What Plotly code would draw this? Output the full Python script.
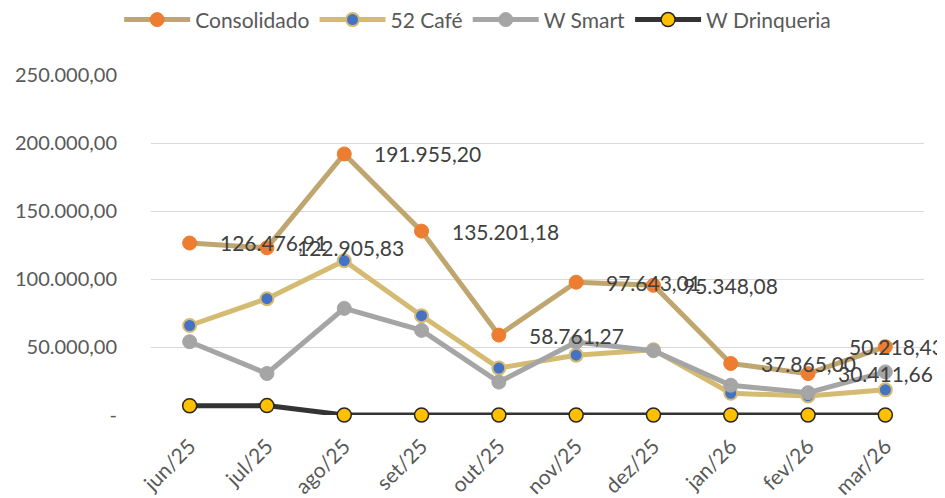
import plotly.graph_objects as go

months = ["jun/25", "jul/25", "ago/25", "set/25", "out/25", "nov/25", "dez/25", "jan/26", "fev/26", "mar/26"]
consolidado = [126476.91, 122905.83, 191955.20, 135201.18, 58761.27, 97643.01, 95348.08, 37865.00, 30411.66, 50218.43]
cafe52 = [65800, 85500, 113500, 73000, 34500, 44000, 48000, 16000, 14000, 18500]
wsmart = [53900, 30500, 78400, 62200, 24200, 53600, 47300, 21900, 16400, 31700]
wdrinq = [6800, 6900, 0, 0, 0, 0, 0, 0, 0, 0]
ytick_vals = [0, 50000, 100000, 150000, 200000, 250000]
ytick_text = ["-", "50.000,00", "100.000,00", "150.000,00", "200.000,00", "250.000,00"]
label_shift = [28, 28, 28, 28, 28, 28, 28, 28, 28, -38]

FONT = "Lato"

def br(v):
    s = f"{v:,.2f}"
    return s.replace(",", "X").replace(".", ",").replace("X", ".")

fig = go.Figure()
fig.add_trace(go.Scatter(x=months, y=consolidado, name="Consolidado", mode="lines+markers",
                         line=dict(color="#BFA56E", width=5),
                         marker=dict(color="#ED7D31", size=14, line=dict(color="#ED7D31", width=1)),
                         cliponaxis=False))
fig.add_trace(go.Scatter(x=months, y=cafe52, name="52 Café", mode="lines+markers",
                         line=dict(color="#D5BB72", width=5),
                         marker=dict(color="#4472C4", size=13, line=dict(color="#D5BB72", width=2)),
                         cliponaxis=False))
fig.add_trace(go.Scatter(x=months, y=wsmart, name="W Smart", mode="lines+markers",
                         line=dict(color="#A5A5A5", width=5),
                         marker=dict(color="#A5A5A5", size=14, line=dict(color="#A5A5A5", width=1)),
                         cliponaxis=False))
fig.add_trace(go.Scatter(x=months, y=wdrinq, name="W Drinqueria", mode="lines+markers",
                         line=dict(color="#333333", width=5),
                         marker=dict(color="#FFC000", size=14, line=dict(color="#262626", width=1.5)),
                         cliponaxis=False))

for m, v, s in zip(months, consolidado, label_shift):
    fig.add_annotation(x=m, y=v, text=br(v), showarrow=False, xanchor="left", yanchor="middle",
                       xshift=s, font=dict(family=FONT, size=21, color="#404040"))

fig.update_layout(
    width=945, height=498,
    margin=dict(l=143, r=29, t=67, b=91, autoexpand=False),
    plot_bgcolor="white", paper_bgcolor="white",
    font=dict(family=FONT, size=20, color="#595959"),
    legend=dict(orientation="h", x=0.497, xref="container", xanchor="center",
                y=0.976, yref="container", yanchor="middle",
                font=dict(family=FONT, size=21, color="#595959"), itemwidth=66,
                tracegroupgap=0),
    showlegend=True,
)
fig.update_xaxes(type="category", range=[-0.5, 9.5], showgrid=False, showline=False, zeroline=False,
                 tickangle=-45, tickfont=dict(family=FONT, size=21, color="#595959"), ticks="",
                 ticklabelstandoff=14)
fig.update_yaxes(range=[0, 250000], tickvals=ytick_vals, ticktext=ytick_text, showgrid=True,
                 gridcolor="#D9D9D9", gridwidth=1, zeroline=False, showline=False, ticks="",
                 ticklabelstandoff=33,
                 tickfont=dict(family=FONT, size=20, color="#595959"))

fig.write_html("out.html")
